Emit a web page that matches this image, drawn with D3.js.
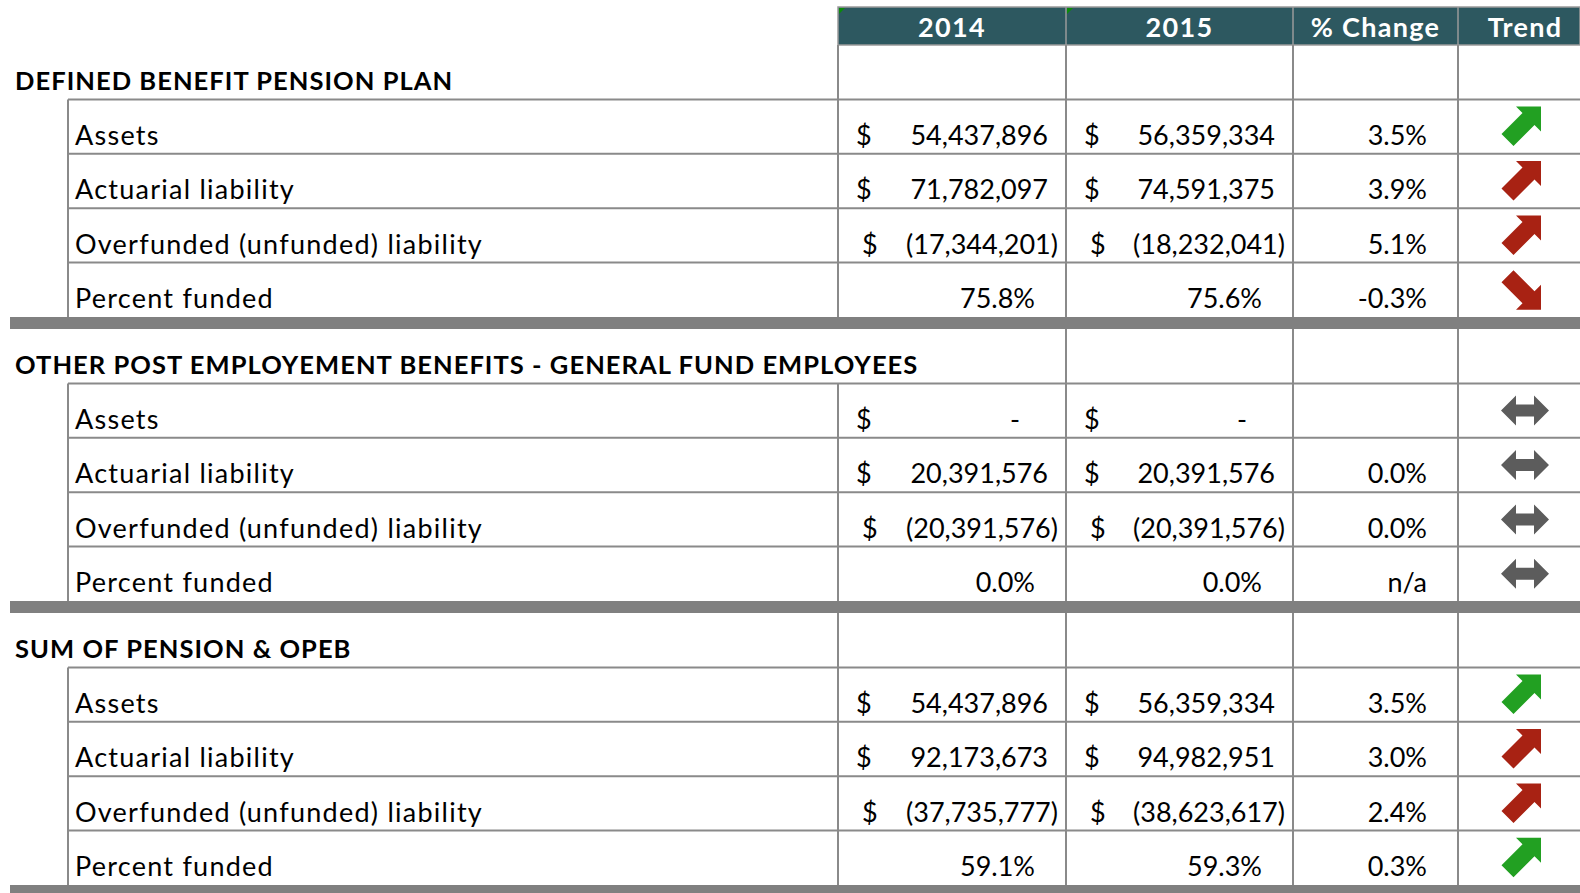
<!DOCTYPE html>
<html><head><meta charset="utf-8">
<script src="https://cdn.jsdelivr.net/npm/d3@7"></script>
<style>html,body{margin:0;padding:0;background:#fff;overflow:hidden}</style>
</head><body>
<svg id="chart" width="1580" height="893"></svg>
<script>
// ---- data ----
const columns = ["2014", "2015", "% Change", "Trend"];
const sections = ["DEFINED BENEFIT PENSION PLAN", "OTHER POST EMPLOYEMENT BENEFITS - GENERAL FUND EMPLOYEES", "SUM OF PENSION & OPEB"];
const rowLabels = ["Assets", "Actuarial liability", "Overfunded (unfunded) liability", "Percent funded"];
const values2014 = [
  [54437896, 71782097, -17344201, 75.8],
  [0, 20391576, -20391576, 0.0],
  [54437896, 92173673, -37735777, 59.1]
];
const values2015 = [
  [56359334, 74591375, -18232041, 75.6],
  [0, 20391576, -20391576, 0.0],
  [56359334, 94982951, -38623617, 59.3]
];
const pctChange = [
  [3.5, 3.9, 5.1, -0.3],
  [null, 0.0, 0.0, "n/a"],
  [3.5, 3.0, 2.4, 0.3]
];
const trends = [
  ["upGood", "upBad", "upBad", "downBad"],
  ["flat", "flat", "flat", "flat"],
  ["upGood", "upBad", "upBad", "upGood"]
];

// ---- layout ----
const W = 1580;
const colEdges = [838, 1066, 1293, 1458, 1592];
const headerTop = 7, headerBottom = 45;
const rowH = 54.4, barH = 12;
const sectionH = rowH * 5 + barH;
const yTop = (s, r) => headerBottom + s * sectionH + r * rowH;
const indentX = 68;
const gridColor = "#8a8a8a";
const colors = { upGood: "#22a022", upBad: "#a82213", downBad: "#a82213", flat: "#5c5c5c" };

const svg = d3.select("#chart");
const font = "Lato, 'Noto Sans', sans-serif";

const fmtNum = d3.format(",");
const fmtPct = v => d3.format(".1f")(v).replace("\u2212", "-") + "%";

// header
svg.append("rect").attr("x", colEdges[0]).attr("y", headerTop).attr("width", W - colEdges[0]).attr("height", headerBottom - headerTop)
  .attr("fill", "#2d5860").attr("stroke", "#9a9a9a").attr("stroke-width", 1.5);
columns.forEach((c, i) => {
  const cx = i < 3 ? (colEdges[i] + colEdges[i + 1]) / 2 : 1525;
  svg.append("text").attr("x", cx).attr("y", 37).attr("text-anchor", "middle").attr("letter-spacing", 1.3)
    .attr("fill", "#fff").attr("font-family", font).attr("font-weight", "bold").attr("font-size", 27).text(c);
  if (i > 0) svg.append("line").attr("x1", colEdges[i]).attr("x2", colEdges[i]).attr("y1", headerTop).attr("y2", headerBottom)
    .attr("stroke", "#9a9a9a").attr("stroke-width", 1.5);
  if (i < 2) svg.append("path").attr("d", `M${colEdges[i] + 1},${headerTop + 1}h6l-6,6z`).attr("fill", "#0a8a0a");
});

function arrowPath(type) {
  if (type === "flat") {
    return "M0,15 L15,0 L15,9 L33,9 L33,0 L48,15 L33,30 L33,21 L15,21 L15,30 Z";
  }
  return "M16,1 L41,1 L41,26 L34.5,19.5 L13.5,40.5 L1.5,28.5 L22.5,7.5 Z";
}

sections.forEach((title, s) => {
  const titleText = svg.append("text").attr("x", 15).attr("y", yTop(s, 1) - 9).attr("font-family", font).attr("font-weight", "bold")
    .attr("font-size", 25.5).attr("letter-spacing", 1.05).attr("fill", "#000").text(title);
  const titleEnd = 15 + titleText.node().getComputedTextLength();

  for (let r = 1; r <= 4; r++) {
    svg.append("line").attr("x1", indentX).attr("x2", W).attr("y1", yTop(s, r)).attr("y2", yTop(s, r))
      .attr("stroke", gridColor).attr("stroke-width", 2);
  }
  svg.append("line").attr("x1", indentX).attr("x2", indentX).attr("y1", yTop(s, 1)).attr("y2", yTop(s, 5))
    .attr("stroke", gridColor).attr("stroke-width", 2);
  colEdges.slice(0, 4).forEach(x => {
    // overflowing title text hides the cell border in its row
    const y1 = (x < titleEnd) ? yTop(s, 1) : yTop(s, 0);
    svg.append("line").attr("x1", x).attr("x2", x).attr("y1", y1).attr("y2", yTop(s, 5))
      .attr("stroke", gridColor).attr("stroke-width", 2);
  });

  rowLabels.forEach((lab, i) => {
    const r = i + 1;
    const base = yTop(s, r + 1) - 9;
    svg.append("text").attr("x", 75).attr("y", base).attr("font-family", font).attr("font-size", 27)
      .attr("letter-spacing", 1.25).attr("fill", "#000").text(lab);

    [values2014[s][i], values2015[s][i]].forEach((v, c) => {
      const left = colEdges[c], right = colEdges[c + 1];
      const t = svg.append("g").attr("font-family", font).attr("font-size", 27).attr("fill", "#000");
      if (i === 3) {
        t.append("text").attr("x", right - 31).attr("y", base).attr("text-anchor", "end").text(fmtPct(v));
      } else {
        const neg = v < 0;
        t.append("text").attr("x", left + (neg ? 24 : 18)).attr("y", base).text("$");
        if (v === 0) {
          t.append("text").attr("x", right - 46).attr("y", base).attr("text-anchor", "end").text("-");
        } else if (neg) {
          t.append("text").attr("x", right - 8).attr("y", base).attr("text-anchor", "end").text("(" + fmtNum(-v) + ")");
        } else {
          t.append("text").attr("x", right - 18).attr("y", base).attr("text-anchor", "end").text(fmtNum(v));
        }
      }
    });
    const p = pctChange[s][i];
    if (p !== null) {
      svg.append("text").attr("x", colEdges[3] - 31).attr("y", base).attr("text-anchor", "end")
        .attr("font-family", font).attr("font-size", 27).attr("fill", "#000")
        .text(typeof p === "string" ? p : fmtPct(p));
    }
    const tp = trends[s][i];
    const cy = (yTop(s, r) + yTop(s, r + 1)) / 2;
    let tf;
    if (tp === "flat") tf = `translate(${1501},${cy - 15})`;
    else if (tp === "downBad") tf = `translate(${1500},${cy + 21}) scale(1,-1)`;
    else tf = `translate(${1500},${cy - 21})`;
    svg.append("path").attr("d", arrowPath(tp)).attr("transform", tf).attr("fill", colors[tp]);
  });

  svg.append("rect").attr("x", 10).attr("y", yTop(s, 5)).attr("width", W - 10).attr("height", barH).attr("fill", "#808080");
});
</script>
</body></html>
